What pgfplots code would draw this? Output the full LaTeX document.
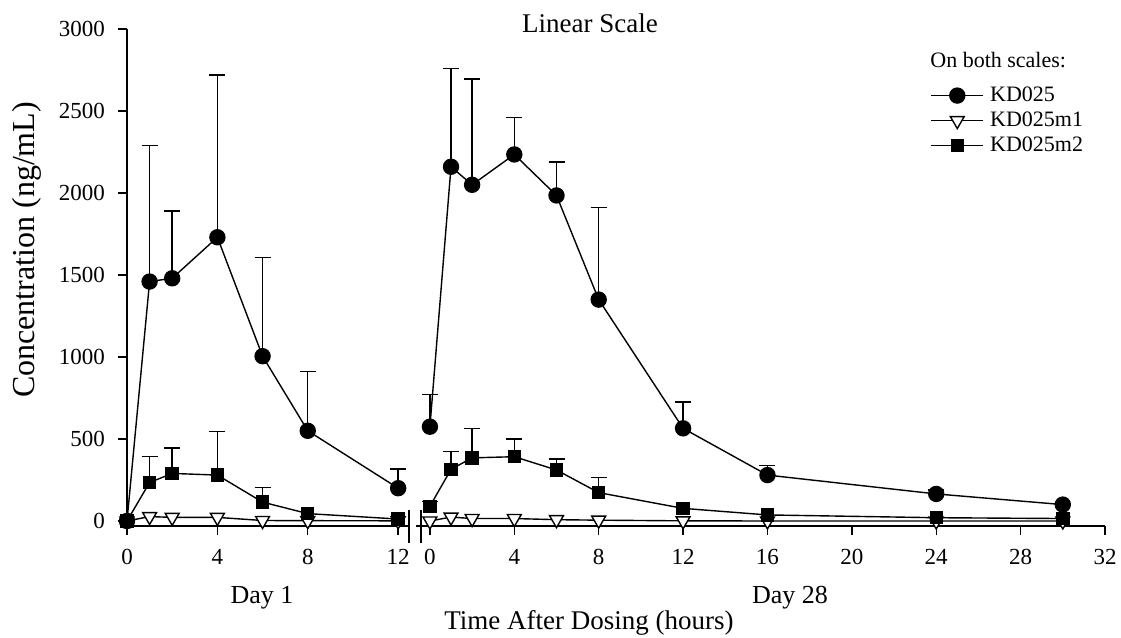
\documentclass[border=0pt]{standalone}
\usepackage{fontspec}
\setmainfont{Liberation Serif}
\usepackage{pgfplots}
\pgfplotsset{compat=1.18}

% shared look of both panels (broken time axis)
\pgfplotsset{
  pkbase/.style={
    scale only axis, height=248.5pt,
    ymin=-30.5, ymax=3000,
    tick align=outside, major tick length=4.5pt,
    axis line style={line width=0.7pt,-},
    every tick/.style={black, line width=0.7pt},
    tick label style={font=\fontsize{11.5}{13}\selectfont},
    /pgf/number format/assume math mode=true,
    /pgf/number format/1000 sep={},
    scaled y ticks=false,
    xticklabel style={yshift=-3.5pt},
    yticklabel style={xshift=-3pt},
    clip=false,
  },
  kd/.style={black, line width=0.7pt, mark=*, mark size=3.75pt},
  mone/.style={black, line width=0.7pt, mark=triangle*, mark size=4pt,
    mark options={rotate=180, fill=white, draw=black}},
  mtwo/.style={black, line width=0.7pt, mark=square*, mark size=3pt},
  eb/.style={only marks, mark=none, forget plot,
    error bars/.cd, y dir=plus, y explicit,
    error mark=-, error mark options={rotate=90, mark size=4pt, line width=0.7pt, black},
    error bar style={black, line width=0.7pt}},
}

\begin{document}
\begin{tikzpicture}
\path[use as bounding box] (0pt,0pt) rectangle (560.5pt,319pt);

% ---- Day 1 ----
\begin{axis}[pkbase,
  at={(63.5pt,56pt)}, anchor=south west, width=141pt,
  xmin=0, xmax=12.48,
  axis x line*=bottom, axis y line*=left,
  xtick={0,4,8,12}, ytick={0,500,...,3000},
]
\addplot[eb] table[x=t, y=c, y error=e] {
t c e
1 1460 830
2 1480 410
4 1730 990
6 1005 600
8 550 360
12 200 118
};
\addplot[eb] table[x=t, y=c, y error=e] {
t c e
1 235 160
2 290 155
4 280 265
6 115 90
};
\addplot[kd] table[x=t, y=c] {
t c
0 0
1 1460
2 1480
4 1730
6 1005
8 550
12 200
};
\addplot[mone] table[x=t, y=c] {
t c
0 0
1 27
2 22
4 22
6 3
8 2
12 1
};
\addplot[mtwo] table[x=t, y=c] {
t c
0 0
1 235
2 290
4 280
6 115
8 45
12 12
};
\end{axis}

% ---- Day 28 ----
\begin{axis}[pkbase,
  at={(208pt,56pt)}, anchor=south west, width=344.5pt,
  xmin=-0.66, xmax=32,
  axis x line*=bottom, hide y axis,
  xtick={0,4,...,32},
  legend style={at={(0.746,0.892)}, anchor=north west, draw=none, fill=none,
    font=\fontsize{11}{13}\selectfont, inner sep=0pt,
    nodes={inner ysep=1pt, inner xsep=3pt, text height=8pt, text depth=2.5pt}},
  legend cell align=left,
  every axis plot post/.append style={
    legend image code/.code={\draw[mark repeat=2, mark phase=2]
      plot coordinates {(0cm,0cm) (0.46cm,0cm) (0.92cm,0cm)};}},
]
\addplot[eb] table[x=t, y=c, y error=e] {
t c e
0 575 195
1 2160 600
2 2050 645
4 2235 225
6 1985 205
8 1350 560
12 565 160
16 280 60
24 165 25
};
\addplot[eb] table[x=t, y=c, y error=e] {
t c e
0 90 28
1 315 108
2 385 180
4 392 108
6 311 67
8 173 91
};
\addplot[kd] table[x=t, y=c] {
t c
0 575
1 2160
2 2050
4 2235
6 1985
8 1350
12 565
16 280
24 165
30 100
};
\addplot[mone] table[x=t, y=c] {
t c
0 0
1 24
2 15
4 15
6 8
8 5
12 1
16 0
24 0
30 0
};
\addplot[mtwo] table[x=t, y=c] {
t c
0 90
1 315
2 385
4 392
6 311
8 173
12 77
16 37
24 20
30 15
};
\legend{KD025, KD025m1, KD025m2}
\end{axis}

% axis break marks
\draw[line width=0.7pt] (204.5pt,47.5pt) -- (204.5pt,64pt);
\draw[line width=0.7pt] (210.5pt,47.5pt) -- (210.5pt,64pt);

% texts
\node[font=\fontsize{13.5}{16}\selectfont] at (295pt,307.5pt) {Linear Scale};
\node[anchor=west, font=\fontsize{11}{13}\selectfont, inner sep=0pt] at (465pt,289pt) {On both scales:};
\node[font=\fontsize{13}{15}\selectfont] at (131pt,20pt) {Day 1};
\node[font=\fontsize{13}{15}\selectfont] at (395pt,20pt) {Day 28};
\node[anchor=base, font=\fontsize{13.5}{16}\selectfont, inner sep=0pt] at (294.5pt,4pt) {Time After Dosing (hours)};
\node[rotate=90, font=\fontsize{16}{18}\selectfont] at (13.5pt,194pt) {Concentration (ng/mL)};
\end{tikzpicture}
\end{document}
